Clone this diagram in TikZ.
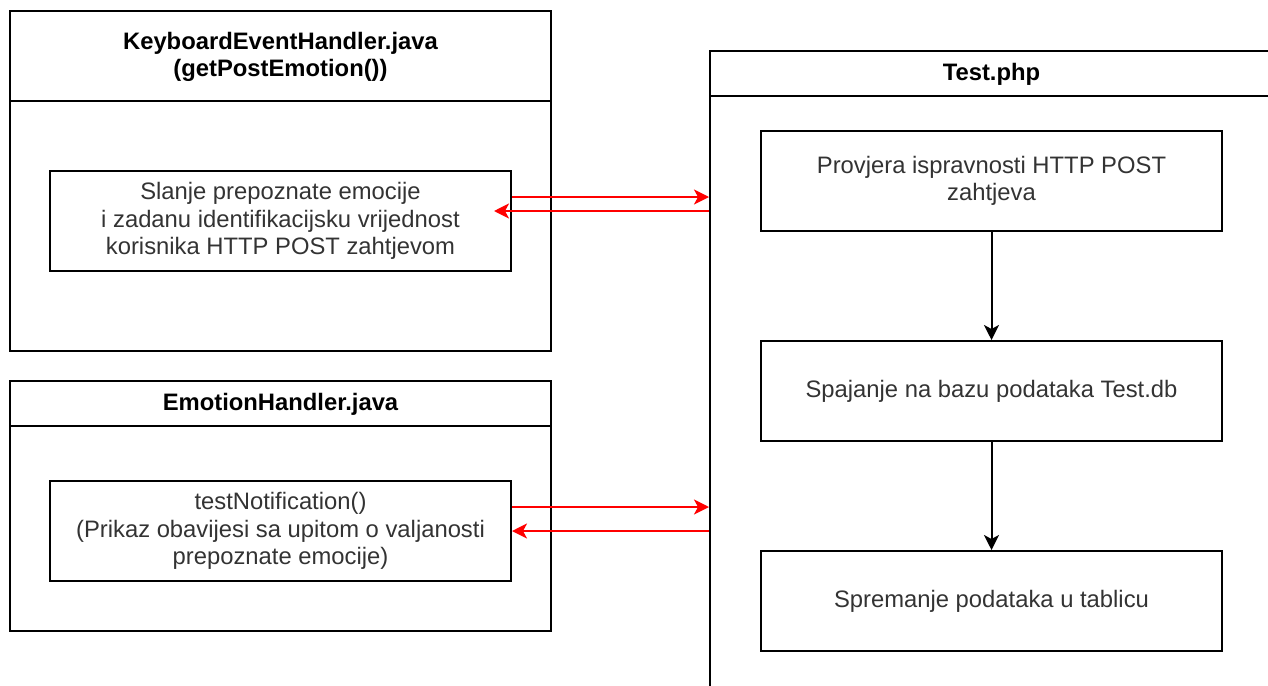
\documentclass[tikz,border=0pt]{standalone}
\usepackage{fontspec}
\setmainfont{Liberation Sans}
\usetikzlibrary{arrows.meta}
\definecolor{txtgray}{HTML}{333333}

\begin{document}
\begin{tikzpicture}[x=0.5pt,y=-0.5pt,
  font=\fontsize{11.9}{13.8}\selectfont,
  >={Stealth[length=7.5pt,width=7.5pt,inset=2pt]},
  frame/.style={draw,line width=1pt,inner sep=0pt},
  inbox/.style={draw,line width=1pt,inner sep=0pt,minimum width=230.5pt,
    minimum height=50pt,align=center,text=txtgray},
  title/.style={font=\fontsize{11.9}{13.8}\selectfont\bfseries,align=center},
  redarr/.style={->,red,line width=1pt},
  blkarr/.style={->,line width=1pt}]
\clip (0,0) rectangle (1268,685);

% left: KeyboardEventHandler
\node[frame, minimum width=270.5pt, minimum height=170pt] (kbd) at (280.5,181) {};
\draw[line width=1pt] ([yshift=-45.5pt]kbd.north west) -- ([yshift=-45.5pt]kbd.north east);
\node[title] (kbdtitle) at (280.5,57) {KeyboardEventHandler.java\\(getPostEmotion())};
\node[inbox] (slanje) at (280.5,221) {Slanje prepoznate emocije\\i zadanu identifikacijsku vrijednost\\korisnika HTTP POST zahtjevom};

% left: EmotionHandler
\node[frame, minimum width=270.5pt, minimum height=125pt] (emo) at (280.5,506) {};
\draw[line width=1pt] ([yshift=-23pt]emo.north west) -- ([yshift=-23pt]emo.north east);
\node[title] (emotitle) at (280.5,404) {EmotionHandler.java};
\node[inbox] (notif) at (280.5,531) {testNotification()\\(Prikaz obavijesi sa upitom o valjanosti\\prepoznate emocije)};

% right: Test.php
\node[frame, minimum width=281.5pt, minimum height=350pt] (test) at (991.5,401) {};
\draw[line width=1pt] ([yshift=-23pt]test.north west) -- ([yshift=-23pt]test.north east);
\node[title] (testtitle) at (991.5,74) {Test.php};
\node[inbox] (provjera) at (991.5,181) {Provjera ispravnosti HTTP POST\\zahtjeva};
\node[inbox] (spajanje) at (991.5,391) {Spajanje na bazu podataka Test.db};
\node[inbox] (spremanje) at (991.5,601) {Spremanje podataka u tablicu};

\draw[blkarr] (provjera) -- (spajanje);
\draw[blkarr] (spajanje) -- (spremanje);

% HTTP POST requests
\coordinate (s1) at ([yshift=12pt]slanje.east);
\coordinate (s2) at ([xshift=-9pt,yshift=5pt]slanje.east);
\draw[redarr] (s1) -- (s1 -| test.west);
\draw[redarr] (s2 -| test.west) -- (s2);
\coordinate (n1) at ([yshift=12pt]notif.east);
\draw[redarr] (n1) -- (n1 -| test.west);
\draw[redarr] (notif.east -| test.west) -- (notif.east);

\end{tikzpicture}
\end{document}
